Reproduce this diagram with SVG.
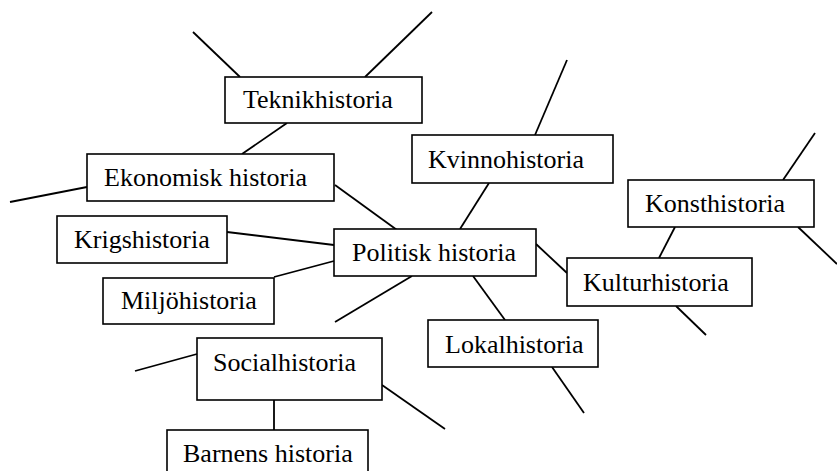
<svg xmlns="http://www.w3.org/2000/svg" width="837" height="471" viewBox="0 0 837 471">
<style>
.box{fill:#fff;stroke:#000;stroke-width:1.6}
.lbl{font-family:"Liberation Serif","Times New Roman",serif;font-size:26px;fill:#000}
.con line{stroke:#000;stroke-width:1.8}
</style>
<rect width="837" height="471" fill="#fff"/>
<g id="connectors" class="con">
<line x1="193" y1="32" x2="240" y2="77"/>
<line x1="365" y1="77" x2="432" y2="12"/>
<line x1="287" y1="123" x2="242" y2="154"/>
<line x1="10" y1="202" x2="87" y2="187"/>
<line x1="335" y1="185" x2="397" y2="230"/>
<line x1="227" y1="232" x2="334" y2="245"/>
<line x1="274" y1="277" x2="334" y2="261"/>
<line x1="412" y1="276" x2="335" y2="322"/>
<line x1="473" y1="276" x2="505" y2="320"/>
<line x1="536" y1="244" x2="567" y2="273"/>
<line x1="460" y1="229" x2="489" y2="183"/>
<line x1="535" y1="135" x2="567" y2="60"/>
<line x1="783" y1="180" x2="815" y2="133"/>
<line x1="798" y1="227" x2="837" y2="264"/>
<line x1="675" y1="227" x2="659" y2="258"/>
<line x1="676" y1="306" x2="706" y2="335"/>
<line x1="552" y1="367" x2="584" y2="413"/>
<line x1="135" y1="371" x2="197" y2="354"/>
<line x1="382" y1="385" x2="445" y2="429"/>
<line x1="274" y1="400" x2="274" y2="430"/>
</g>
<g id="teknikhistoria"><rect class="box" x="225" y="77" width="197" height="46"/><text class="lbl" x="243" y="108">Teknikhistoria</text></g>
<g id="ekonomisk-historia"><rect class="box" x="87" y="154" width="247" height="47"/><text class="lbl" x="104" y="186">Ekonomisk historia</text></g>
<g id="krigshistoria"><rect class="box" x="57" y="216" width="170" height="47"/><text class="lbl" x="74" y="248">Krigshistoria</text></g>
<g id="miljohistoria"><rect class="box" x="103" y="278" width="171" height="46"/><text class="lbl" x="121" y="309">Miljöhistoria</text></g>
<g id="politisk-historia"><rect class="box" x="334" y="229" width="202" height="47"/><text class="lbl" x="352" y="261">Politisk historia</text></g>
<g id="kvinnohistoria"><rect class="box" x="412" y="135" width="201" height="48"/><text class="lbl" x="428" y="168">Kvinnohistoria</text></g>
<g id="konsthistoria"><rect class="box" x="628" y="180" width="186" height="47"/><text class="lbl" x="645" y="212">Konsthistoria</text></g>
<g id="kulturhistoria"><rect class="box" x="567" y="258" width="185" height="48"/><text class="lbl" x="583" y="291">Kulturhistoria</text></g>
<g id="lokalhistoria"><rect class="box" x="428" y="320" width="170" height="47"/><text class="lbl" x="445" y="353">Lokalhistoria</text></g>
<g id="socialhistoria"><rect class="box" x="197" y="338" width="185" height="62"/><text class="lbl" x="213" y="371">Socialhistoria</text></g>
<g id="barnens-historia"><rect class="box" x="167" y="430" width="201" height="50"/><text class="lbl" x="183" y="462">Barnens historia</text></g>
</svg>
